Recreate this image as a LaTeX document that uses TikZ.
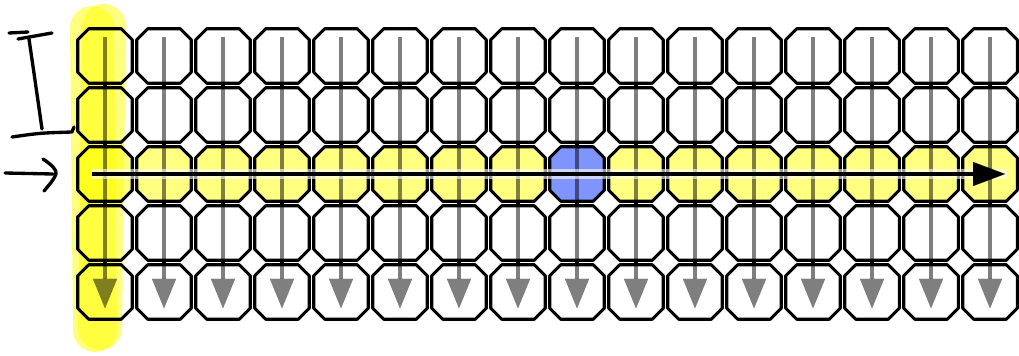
\documentclass[tikz,border=0pt]{standalone}
\usetikzlibrary{
    calc,
    arrows.meta
}
\definecolor{hiyellow}{HTML}{FFFF00}
\definecolor{cellyellow}{HTML}{FFFF80}
\definecolor{cellblue}{HTML}{8094FF}
\tikzset{
  every path/.style={
    line join=round
  },
  cell/.style={
    minimum width=40.5pt,
    minimum height=40.5pt,
    inner sep=0pt
  },
  rim/.style={
    draw=black,
    line width=2.3pt
  },
  marker/.style={
    hiyellow,
    opacity=0.5,
    line width=33pt,
    line cap=round
  },
  link/.style={
    black,
    line width=2.3pt
  },
  down/.style={
    black,
    opacity=0.5,
    line width=2.4pt,
    -{Triangle[width=18pt,length=22pt,line width=0.01pt]}
  },
  across/.style={
    black,
    line width=2.4pt,
    -{Triangle[width=18pt,length=24pt,line width=0.01pt]}
  },
  halo/.style={
    white,
    opacity=0.6,
    line width=7pt
  },
  hand/.style={
    black,
    line width=2.5pt,
    line cap=round
  }
}
\newcommand\octo[2]{%
  \filldraw[rim,fill=#2] ($(#1.north west)+(11,0)$) -- ($(#1.north east)+(-11,0)$)
    -- ($(#1.north east)+(0,11)$) -- ($(#1.south east)+(0,-11)$)
    -- ($(#1.south east)+(-11,0)$) -- ($(#1.south west)+(11,0)$)
    -- ($(#1.south west)+(0,-11)$) -- ($(#1.north west)+(0,11)$) -- cycle;}
\begin{document}
\begin{tikzpicture}[x=0.75pt,y=-0.75pt]
\useasboundingbox (0,0) rectangle (1019,356);
\draw[marker] (92,28) -- (95,330);
\draw[marker] (104,26) -- (100,328);
\foreach \row in {1,...,5} {
\foreach \col in {1,...,16} {
\node[cell] (c\row-\col) at ({105+59*(\col-1)},{56+59*(\row-1)}) {};
}
}
\foreach \row in {1,2,4,5} {
\octo{c\row-1}{none}
\foreach \col in {2,...,16} {
\octo{c\row-\col}{white}
}
}
\filldraw[rim,fill=hiyellow,fill opacity=0.5] ($(c3-1.north west)+(11,0)$) -- ($(c3-1.north east)+(-11,0)$)
    -- ($(c3-1.north east)+(0,11)$) -- ($(c3-1.south east)+(0,-11)$)
    -- ($(c3-1.south east)+(-11,0)$) -- ($(c3-1.south west)+(11,0)$)
    -- ($(c3-1.south west)+(0,-11)$) -- ($(c3-1.north west)+(0,11)$) -- cycle;
\foreach \col in {2,...,8,10,11,...,16} {
\octo{c3-\col}{cellyellow}
}
\octo{c3-9}{cellblue}
\foreach \col in {1,...,16} {
\foreach \row/\nxt in {1/2,2/3,3/4,4/5} {
\draw[link] (c\row-\col.south) -- (c\nxt-\col.north);
}
\draw[down] ($(c1-\col.north)+(0,8)$) -- ($(c5-\col.south)+(0,-11)$);
}
\draw[halo] ($(c3-1.center)+(-13,0)$) -- ($(c3-16.center)+(17,0)$);
\draw[across] ($(c3-1.center)+(-13,0)$) -- ($(c3-16.center)+(15,0)$);
% hand drawn marks
\draw[hand] (9,33) -- (28,32);
\draw[hand] (18,39) -- (52,33);
\draw[hand] (29,39) .. controls (35,80) .. (42,129);
\draw[hand] (12,137) .. controls (40,133) .. (72,132) -- (74,127);
\draw[hand] (5,173) -- (53,174);
\draw[hand] (43,159) .. controls (52,165) and (57,170) .. (56,174) .. controls (54,180) and (48,186) .. (44,191);
\end{tikzpicture}
\end{document}
